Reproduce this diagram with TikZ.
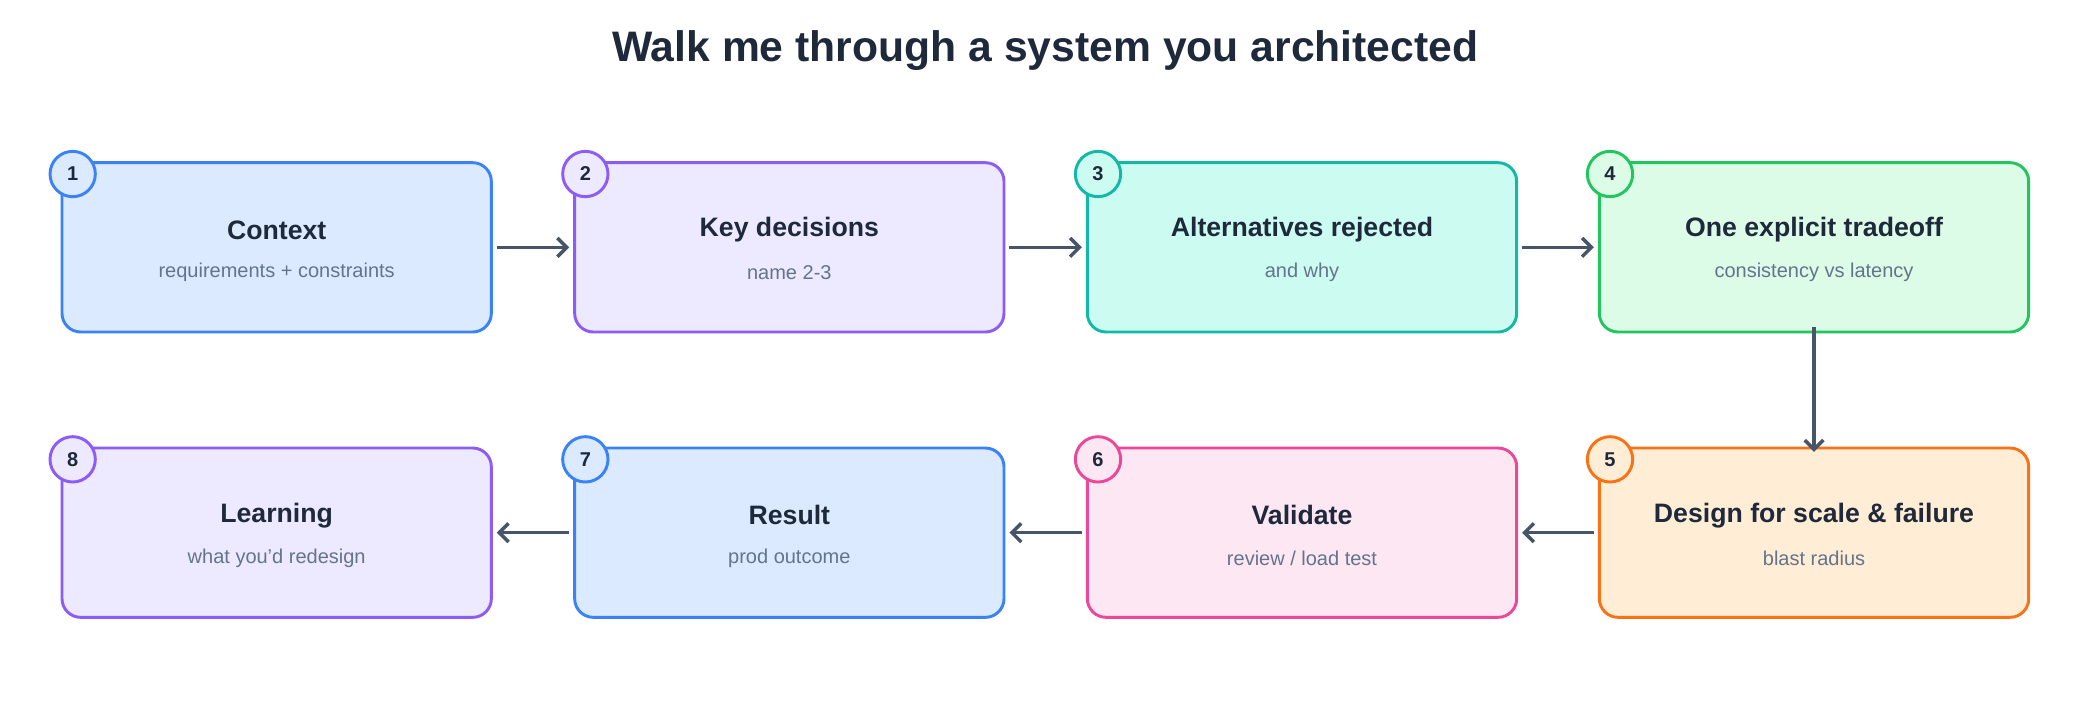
\documentclass[tikz,border=0pt]{standalone}
\usepackage{fontspec}
\setmainfont{Liberation Sans}
\usetikzlibrary{arrows.meta}
\definecolor{tx}{HTML}{1E293B}
\definecolor{sub}{HTML}{64748B}
\definecolor{ar}{HTML}{475569}
\definecolor{bS}{HTML}{3B82F6}\definecolor{bF}{HTML}{DBEAFE}
\definecolor{pS}{HTML}{8B5CF6}\definecolor{pF}{HTML}{EDE9FE}
\definecolor{tS}{HTML}{14B8A6}\definecolor{tF}{HTML}{CCFBF1}
\definecolor{gS}{HTML}{22C55E}\definecolor{gF}{HTML}{DCFCE7}
\definecolor{oS}{HTML}{F97316}\definecolor{oF}{HTML}{FFEDD5}
\definecolor{kS}{HTML}{EC4899}\definecolor{kF}{HTML}{FCE7F3}
\tikzset{
 box/.style={draw=#1S,fill=#1F,line width=2.2pt,rounded corners=14pt,minimum width=322pt,minimum height=127pt,inner sep=0pt},
 num/.style={circle,draw=#1S,fill=#1F,line width=2.2pt,minimum size=34pt,inner sep=0pt,font=\fontsize{15}{15}\selectfont\bfseries,text=tx},
 ttl/.style={font=\fontsize{20}{20}\selectfont\bfseries,text=tx},
 sb/.style={font=\fontsize{15}{15}\selectfont,text=sub},
 arr/.style={draw=ar,line width=2.6pt,-{Straight Barb[length=7pt,width=14pt]}}
}
\begin{document}
\begin{tikzpicture}[x=1pt,y=-1pt]
\useasboundingbox (0,0) rectangle (1560,528);
\node[font=\fontsize{32}{32}\selectfont\bfseries,text=tx] (title) at (784,38) {Walk me through a system you architected};
\def\bx#1#2#3#4#5#6#7{%
 \node[box=#4] (b#1) at (#2,#3) {};
 \node[ttl] (t#1) at (#2,#3-13) {#5};
 \node[sb] (s#1) at (#2,#3+19) {#6};
 \node[num=#4] (n#1) at (#2-153,#3-55) {#7};}
\bx{1}{207.5}{185.5}{b}{Context}{requirements + constraints}{1}
\bx{2}{592}{185.5}{p}{Key decisions}{name 2-3}{2}
\bx{3}{976.5}{185.5}{t}{Alternatives rejected}{and why}{3}
\bx{4}{1360.5}{185.5}{g}{One explicit tradeoff}{consistency vs latency}{4}
\bx{5}{1360.5}{399.5}{o}{Design for scale \& failure}{blast radius}{5}
\bx{6}{976.5}{399.5}{k}{Validate}{review / load test}{6}
\bx{7}{592}{399.5}{b}{Result}{prod outcome}{7}
\bx{8}{207.5}{399.5}{p}{Learning}{what you'd redesign}{8}
\draw[arr] ([xshift=3pt]b1.east) -- ([xshift=-3pt]b2.west);
\draw[arr] ([xshift=3pt]b2.east) -- ([xshift=-3pt]b3.west);
\draw[arr] ([xshift=3pt]b3.east) -- ([xshift=-3pt]b4.west);
\draw[arr] ([yshift=5pt]b4.south) -- ([yshift=-4pt]b5.north);
\draw[arr] ([xshift=-3pt]b5.west) -- ([xshift=3pt]b6.east);
\draw[arr] ([xshift=-3pt]b6.west) -- ([xshift=3pt]b7.east);
\draw[arr] ([xshift=-3pt]b7.west) -- ([xshift=3pt]b8.east);
\end{tikzpicture}
\end{document}
